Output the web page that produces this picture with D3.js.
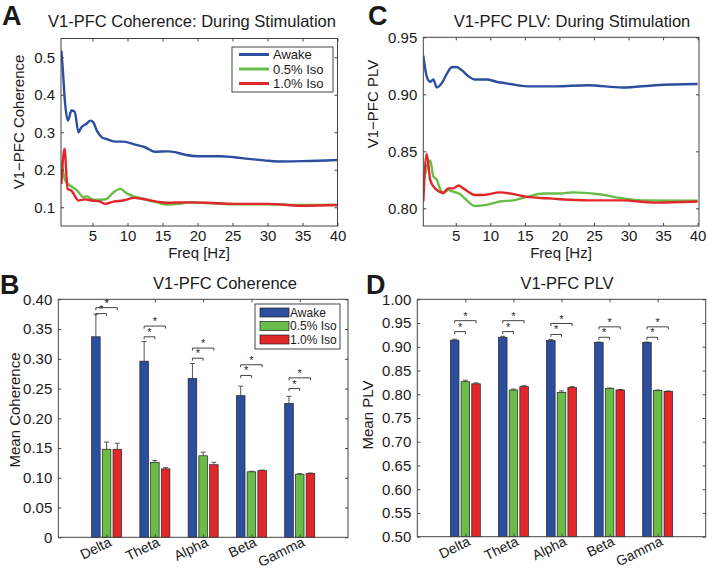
<!DOCTYPE html>
<html>
<head>
<meta charset="utf-8">
<script src="https://cdn.jsdelivr.net/npm/d3@7"></script>
<style>
  body { margin: 0; background: #fff; }
  svg text { font-family: "Liberation Sans", Arial, sans-serif; fill: #1a1a1a; }
  .axis path, .axis line { stroke: #444; }
</style>
</head>
<body>
<script>
// ---- data ----
var seriesNames = ["Awake", "0.5% Iso", "1.0% Iso"];
var seriesColors = ["#2c4e9f", "#68bc48", "#e2272b"];
var bands = ["Delta", "Theta", "Alpha", "Beta", "Gamma"];

// panel A: coherence spectra [Hz, value]
var cohAwakeLine = [[0.56,0.518],[0.8,0.456],[1.05,0.385],[1.5,0.331],[2.0,0.358],[2.45,0.355],[3.0,0.300],[3.4,0.313],[4.1,0.322],[4.7,0.331],[5.1,0.327],[5.6,0.305],[6.3,0.287],[7.0,0.282],[8.2,0.275],[9.4,0.275],[11.1,0.267],[12.5,0.260],[13.9,0.248],[15.8,0.249],[16.8,0.247],[18.2,0.240],[20.1,0.236],[23.3,0.236],[25,0.234],[27.3,0.229],[29.5,0.225],[31.5,0.222],[35,0.223],[40,0.226]];
var cohIso05Line = [[0.56,0.224],[1.1,0.171],[1.8,0.158],[2.8,0.145],[3.7,0.127],[4.2,0.129],[5.1,0.120],[6.1,0.120],[7.0,0.122],[8.0,0.140],[9.0,0.149],[9.9,0.137],[10.9,0.129],[12.3,0.122],[14.2,0.113],[15.6,0.107],[17.1,0.109],[19,0.113],[21.4,0.111],[25,0.108],[30,0.108],[35,0.106],[40,0.106]];
var cohIso10Line = [[0.56,0.162],[1.0,0.256],[1.45,0.149],[2.0,0.144],[3.0,0.118],[3.9,0.121],[4.9,0.118],[6.1,0.115],[6.8,0.109],[8.0,0.115],[9.4,0.118],[10.9,0.125],[12.3,0.122],[14.2,0.115],[15.6,0.112],[18.5,0.113],[21.4,0.112],[25.2,0.109],[30,0.109],[34.8,0.104],[40,0.106]];

// panel C: PLV spectra [Hz, value]
var plvAwakeLine = [[0.3,0.934],[0.8,0.9155],[1.3,0.911],[1.75,0.913],[2.25,0.906],[3.0,0.910],[3.7,0.918],[4.4,0.9237],[5.1,0.924],[5.9,0.921],[6.8,0.916],[7.8,0.913],[9.5,0.913],[10.9,0.911],[12.9,0.909],[15.3,0.907],[19.4,0.907],[24.2,0.908],[29.1,0.906],[33.9,0.908],[40,0.909]];
var plvIso05Line = [[0.3,0.823],[1.3,0.842],[1.75,0.828],[2.25,0.825],[2.7,0.8175],[3.2,0.813],[3.9,0.816],[4.65,0.8146],[5.6,0.8125],[6.6,0.807],[7.8,0.802],[9.5,0.803],[11.4,0.806],[13.3,0.807],[15.3,0.810],[17.7,0.813],[20.1,0.813],[21.8,0.814],[25.7,0.8123],[29.1,0.8088],[32,0.807],[40,0.8066]];
var plvIso10Line = [[0.3,0.806],[0.8,0.8476],[1.3,0.825],[2.0,0.8175],[3.2,0.8137],[3.9,0.8175],[4.65,0.8175],[5.4,0.820],[6.1,0.8175],[7.8,0.8117],[9.0,0.8117],[11.4,0.814],[12.9,0.813],[15.3,0.810],[18.2,0.8088],[20.1,0.808],[24.2,0.807],[29.1,0.807],[33.9,0.805],[40,0.806]];

// panel B: mean coherence per band
var cohMeanAwake = [0.337, 0.296, 0.267, 0.238, 0.225];
var cohErrAwake  = [0.038, 0.033, 0.025, 0.016, 0.012];
var cohMeanIso05 = [0.148, 0.126, 0.137, 0.110, 0.106];
var cohErrIso05  = [0.012, 0.003, 0.006, 0.001, 0.001];
var cohMeanIso10 = [0.148, 0.115, 0.122, 0.112, 0.107];
var cohErrIso10  = [0.010, 0.002, 0.004, 0.001, 0.001];
var cohSigShort  = [0.376, 0.337, 0.301, 0.272, 0.250];
var cohSigLong   = [0.386, 0.355, 0.318, 0.290, 0.268];

// panel D: mean PLV per band
var plvMeanAwake = [0.914, 0.920, 0.913, 0.909, 0.909];
var plvErrAwake  = [0.002, 0.002, 0.002, 0.001, 0.001];
var plvMeanIso05 = [0.8265, 0.809, 0.804, 0.812, 0.808];
var plvErrIso05  = [0.003, 0.002, 0.003, 0.001, 0.001];
var plvMeanIso10 = [0.822, 0.816, 0.814, 0.809, 0.806];
var plvErrIso10  = [0.002, 0.002, 0.002, 0.001, 0.001];
var plvSigShort  = [0.932, 0.932, 0.926, 0.920, 0.920];
var plvSigLong   = [0.955, 0.955, 0.949, 0.942, 0.942];

var cohLineTicksY = [0.1, 0.2, 0.3, 0.4, 0.5];
var plvLineTicksY = [0.80, 0.85, 0.90, 0.95];
var freqTicks = [5, 10, 15, 20, 25, 30, 35, 40];
var cohBarTicks = [0, 0.05, 0.10, 0.15, 0.20, 0.25, 0.30, 0.35, 0.40];
var plvBarTicks = [0.50, 0.55, 0.60, 0.65, 0.70, 0.75, 0.80, 0.85, 0.90, 0.95, 1.00];

var svg = d3.select("body").append("svg")
  .attr("width", 708)
  .attr("height", 573);

// draws the box with inward ticks on all four sides
function drawFrame(g, x, y, xTicks, yTicks, yFmt, showXLabels) {
  var x0 = x.range()[0], x1 = x.range()[1];
  var y0 = y.range()[0], y1 = y.range()[1];
  var w = x1 - x0, h = y0 - y1;

  g.append("g").attr("class", "axis")
    .attr("transform", `translate(0,${y0})`)
    .call(d3.axisBottom(x).tickValues(xTicks).tickSizeInner(-3).tickSizeOuter(0).tickPadding(4)
      .tickFormat(showXLabels ? d3.format("d") : ""))
    .call(a => a.select(".domain").remove())
    .selectAll("text").attr("font-size", 15);
  g.append("g").attr("class", "axis")
    .attr("transform", `translate(0,${y1})`)
    .call(d3.axisTop(x).tickValues(xTicks).tickSizeInner(-3).tickSizeOuter(0).tickFormat(""))
    .call(a => a.select(".domain").remove());
  g.append("g").attr("class", "axis")
    .attr("transform", `translate(${x0},0)`)
    .call(d3.axisLeft(y).tickValues(yTicks).tickSizeInner(-3).tickSizeOuter(0).tickPadding(6).tickFormat(yFmt))
    .call(a => a.select(".domain").remove())
    .selectAll("text").attr("font-size", 15);
  g.append("g").attr("class", "axis")
    .attr("transform", `translate(${x1},0)`)
    .call(d3.axisRight(y).tickValues(yTicks).tickSizeInner(-3).tickSizeOuter(0).tickFormat(""))
    .call(a => a.select(".domain").remove());
  g.selectAll(".axis text").attr("fill", "#1a1a1a");

  g.append("rect")
    .attr("x", x0).attr("y", y1)
    .attr("width", w).attr("height", h)
    .attr("fill", "none")
    .attr("stroke", "#444")
    .attr("stroke-width", 1);
}

function panelLetter(txt, x, y) {
  svg.append("text")
    .attr("x", x).attr("y", y)
    .attr("font-size", 27)
    .attr("font-weight", "bold")
    .text(txt);
}

function addText(txt, x, y, size, rotate) {
  var t = svg.append("text")
    .attr("font-size", size)
    .attr("text-anchor", "middle")
    .text(txt);
  if (rotate) t.attr("transform", `translate(${x},${y}) rotate(-90)`);
  else t.attr("x", x).attr("y", y);
  return t;
}

// ---------------- line panels ----------------
function linePanel(opts) {
  var g = svg.append("g");
  var x = d3.scaleLinear().domain(opts.xDomain).range(opts.xRange);
  var y = d3.scaleLinear().domain(opts.yDomain).range(opts.yRange);

  var clipId = "clip" + opts.id;
  svg.append("clipPath").attr("id", clipId)
    .append("rect")
    .attr("x", opts.xRange[0]).attr("y", opts.yRange[1])
    .attr("width", opts.xRange[1] - opts.xRange[0])
    .attr("height", opts.yRange[0] - opts.yRange[1]);

  var line = d3.line()
    .x(d => x(d[0]))
    .y(d => y(d[1]))
    .curve(d3.curveMonotoneX);

  opts.series.forEach(function(s, i) {
    g.append("path")
      .datum(s)
      .attr("clip-path", `url(#${clipId})`)
      .attr("d", line)
      .attr("fill", "none")
      .attr("stroke", seriesColors[i])
      .attr("stroke-width", 2.4)
      .attr("stroke-linejoin", "round");
  });

  drawFrame(g, x, y, freqTicks, opts.yTicks, opts.yFmt, true);
  return g;
}

linePanel({
  id: "A",
  xDomain: [0.5, 40], xRange: [61, 337.5],
  yDomain: [0.05, 0.55], yRange: [226, 38.5],
  yTicks: cohLineTicksY, yFmt: d3.format(".1f"),
  series: [cohAwakeLine, cohIso05Line, cohIso10Line]
});

linePanel({
  id: "C",
  xDomain: [0.3, 40.2], xRange: [423.3, 699],
  yDomain: [0.7845, 0.95], yRange: [226, 37.3],
  yTicks: plvLineTicksY, yFmt: d3.format(".2f"),
  series: [plvAwakeLine, plvIso05Line, plvIso10Line]
});

// legend for panel A
(function() {
  var lg = svg.append("g").attr("transform", "translate(232,47)");
  lg.append("rect").attr("width", 101).attr("height", 45)
    .attr("fill", "#fff").attr("stroke", "#444").attr("stroke-width", 1);
  seriesNames.forEach(function(name, i) {
    var yy = 7.5 + i * 14.5;
    lg.append("line").attr("x1", 7).attr("x2", 37).attr("y1", yy).attr("y2", yy)
      .attr("stroke", seriesColors[i]).attr("stroke-width", 3);
    lg.append("text").attr("x", 41).attr("y", yy + 4.5).attr("font-size", 13).text(name);
  });
})();

panelLetter("A", 2, 25);
panelLetter("C", 368, 25);
addText("V1-PFC Coherence: During Stimulation", 192, 26.5, 16.5);
addText("V1-PFC PLV: During Stimulation", 572, 26.5, 16.5);
addText("V1\u2212PFC Coherence", 24, 122, 15, true);
addText("V1\u2212PFC PLV", 378, 104, 15, true);
addText("Freq [Hz]", 199, 258, 15);
addText("Freq [Hz]", 561, 258, 15);

// ---------------- bar panels ----------------
function barPanel(opts) {
  var g = svg.append("g");
  var x = d3.scaleLinear().domain([0, bands.length + 1]).range(opts.xRange);
  var y = d3.scaleLinear().domain(opts.yDomain).range(opts.yRange);
  var offsets = [-0.222, 0, 0.222];
  var bw = 0.178;
  var base = opts.yDomain[0];

  opts.means.forEach(function(vals, s) {
    var rows = vals.map((v, i) => ({i: i, v: v, e: opts.errs[s][i]}));
    // error bars (upper only)
    g.selectAll(null).data(rows).enter().append("line")
      .attr("x1", d => x(d.i + 1 + offsets[s]))
      .attr("x2", d => x(d.i + 1 + offsets[s]))
      .attr("y1", d => y(d.v))
      .attr("y2", d => y(d.v + d.e))
      .attr("stroke", "#555").attr("stroke-width", 1);
    g.selectAll(null).data(rows).enter().append("line")
      .attr("x1", d => x(d.i + 1 + offsets[s]) - 2.5)
      .attr("x2", d => x(d.i + 1 + offsets[s]) + 2.5)
      .attr("y1", d => y(d.v + d.e))
      .attr("y2", d => y(d.v + d.e))
      .attr("stroke", "#555").attr("stroke-width", 1);
    g.selectAll(null).data(rows).enter().append("rect")
      .attr("x", d => x(d.i + 1 + offsets[s] - bw / 2))
      .attr("width", x(bw) - x(0))
      .attr("y", d => y(d.v))
      .attr("height", d => y(base) - y(d.v))
      .attr("fill", seriesColors[s])
      .attr("stroke", "#222").attr("stroke-width", 0.7);
  });

  // significance brackets
  function bracket(levels, toIdx) {
    levels.forEach(function(lv, i) {
      var xa = x(i + 1 + offsets[0]), xb = x(i + 1 + offsets[toIdx]), yy = y(lv);
      g.append("path")
        .attr("d", `M${xa},${yy + 2.5}V${yy}H${xb}V${yy + 2.5}`)
        .attr("fill", "none").attr("stroke", "#444").attr("stroke-width", 1);
      g.append("text")
        .attr("x", (xa + xb) / 2).attr("y", yy - 1)
        .attr("text-anchor", "middle").attr("font-size", 11)
        .text("*");
    });
  }
  bracket(opts.sigShort, 1);
  bracket(opts.sigLong, 2);

  drawFrame(g, x, y, [1, 2, 3, 4, 5], opts.yTicks, opts.yFmt, false);

  // rotated band labels
  g.selectAll(null).data(bands).enter().append("text")
    .attr("text-anchor", "end")
    .attr("font-size", 14)
    .attr("transform", (d, i) => `translate(${x(i + 1) + 6},${opts.yRange[0] + 8}) rotate(-26)`)
    .text(d => d);
  return g;
}

barPanel({
  xRange: [58.3, 348], yDomain: [0, 0.40], yRange: [537.3, 299.3],
  yTicks: cohBarTicks, yFmt: d => d === 0 ? "0" : d3.format(".2f")(d),
  means: [cohMeanAwake, cohMeanIso05, cohMeanIso10],
  errs: [cohErrAwake, cohErrIso05, cohErrIso10],
  sigShort: cohSigShort, sigLong: cohSigLong
});

barPanel({
  xRange: [417.3, 705.7], yDomain: [0.5, 1.0], yRange: [536.7, 299.3],
  yTicks: plvBarTicks, yFmt: d3.format(".2f"),
  means: [plvMeanAwake, plvMeanIso05, plvMeanIso10],
  errs: [plvErrAwake, plvErrIso05, plvErrIso10],
  sigShort: plvSigShort, sigLong: plvSigLong
});

// legend for panel B
(function() {
  var lg = svg.append("g").attr("transform", "translate(255,304)");
  lg.append("rect").attr("width", 85).attr("height", 45)
    .attr("fill", "#fff").attr("stroke", "#444").attr("stroke-width", 1);
  seriesNames.forEach(function(name, i) {
    var yy = 8.5 + i * 13.5;
    lg.append("rect").attr("x", 5).attr("y", yy - 4.5).attr("width", 29).attr("height", 9)
      .attr("fill", seriesColors[i]).attr("stroke", "#222").attr("stroke-width", 0.7);
    lg.append("text").attr("x", 35).attr("y", yy + 4.3).attr("font-size", 12).text(name);
  });
})();

panelLetter("B", 0, 294);
panelLetter("D", 366, 294);
addText("V1-PFC Coherence", 225, 288.5, 16.5);
addText("V1-PFC PLV", 567, 288.5, 16.5);
addText("Mean Coherence", 20, 410, 15, true);
addText("Mean PLV", 373, 415, 15, true);
</script>
</body>
</html>
